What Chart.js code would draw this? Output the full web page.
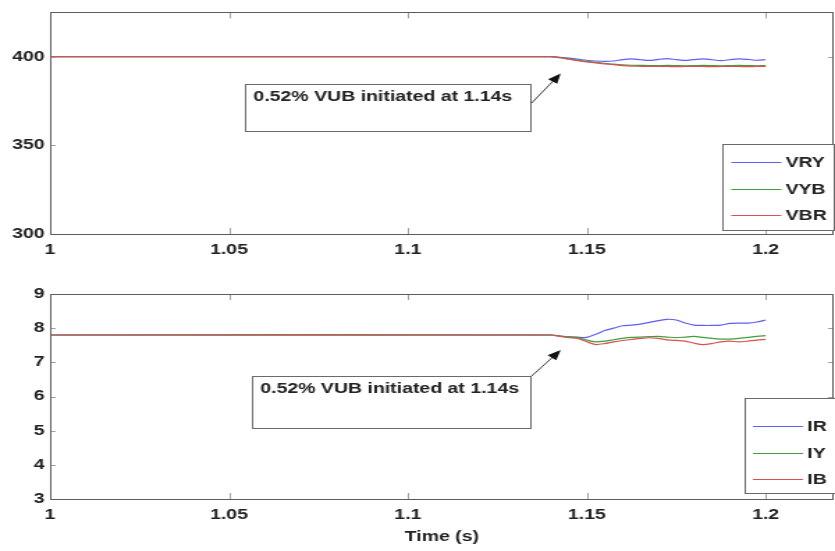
<!DOCTYPE html>
<html>
<head>
<meta charset="utf-8">
<script src="https://cdn.jsdelivr.net/npm/chart.js@4.4.0/dist/chart.umd.min.js"></script>
<style>
  body { margin: 0; background: #fff; width: 835px; height: 551px; overflow: hidden; position: relative; }
  /* the original figure is stretched sideways, so draw narrow and stretch the same way */
  .plot { position: absolute; left: 0; width: 600px; transform-origin: 0 0; transform: scaleX(1.39167); }
  #top { top: 0; height: 270px; }
  #bottom { top: 270px; height: 281px; }
</style>
</head>
<body>
<div class="plot" id="top"><canvas id="voltChart"></canvas></div>
<div class="plot" id="bottom"><canvas id="currChart"></canvas></div>
<script>
// --  data  --
const time = [1, 1.14, 1.1425, 1.145, 1.1475, 1.15, 1.1525, 1.155, 1.1575, 1.16, 1.1625, 1.165, 1.1675,
    1.17, 1.1725, 1.175, 1.1775, 1.18, 1.1825, 1.185, 1.1875, 1.19, 1.1925, 1.195, 1.1975, 1.2]

// line voltages (V)
const vry = [400, 400, 399.7, 399.2, 398.6, 398.0, 397.6, 397.4, 397.6, 398.4, 398.8, 398.3, 397.9,
    398.5, 398.9, 398.4, 397.9, 398.4, 398.8, 398.3, 397.8, 398.3, 398.8, 398.5, 398.0, 398.3]
const vyb = [400, 400, 399.5, 398.8, 398.0, 397.4, 396.8, 396.3, 395.8, 395.4, 395.2, 395.1, 395.0,
    395.0, 395.1, 395.0, 394.9, 395.0, 395.1, 395.0, 394.9, 395.0, 395.1, 395.0, 394.9, 395.0]
const vbr = [400, 400, 399.4, 398.6, 397.8, 397.1, 396.5, 396.0, 395.5, 395.0, 394.7, 394.6, 394.5,
    394.6, 394.5, 394.4, 394.5, 394.6, 394.5, 394.4, 394.5, 394.6, 394.5, 394.4, 394.5, 394.5]

// phase currents (A)
const ir = [7.8, 7.8, 7.77, 7.74, 7.73, 7.73, 7.82, 7.93, 8.0, 8.07, 8.09, 8.12, 8.17,
    8.22, 8.26, 8.24, 8.15, 8.09, 8.08, 8.08, 8.09, 8.14, 8.15, 8.15, 8.18, 8.24]
const iy = [7.8, 7.8, 7.77, 7.75, 7.73, 7.65, 7.6, 7.62, 7.66, 7.7, 7.73, 7.74, 7.75,
    7.76, 7.74, 7.72, 7.74, 7.76, 7.73, 7.7, 7.68, 7.68, 7.7, 7.73, 7.76, 7.78]
const ib = [7.8, 7.8, 7.76, 7.72, 7.7, 7.6, 7.52, 7.55, 7.6, 7.64, 7.67, 7.7, 7.72,
    7.7, 7.66, 7.64, 7.62, 7.56, 7.52, 7.55, 7.6, 7.62, 7.6, 7.62, 7.65, 7.67]

const timeTicks = [1, 1.05, 1.1, 1.15, 1.2]
const voltTicks = [300, 350, 400]
const currTicks = [3, 4, 5, 6, 7, 8, 9]

const voltLabels = ['VRY', 'VYB', 'VBR']
const currLabels = ['IR', 'IY', 'IB']
const noteText = '0.52% VUB initiated at 1.14s'


// --  helpers  --
const FONT = '"Liberation Sans", Arial, sans-serif'
const traceColors = ['rgb(95,95,240)', 'rgb(60,160,60)', 'rgb(220,80,80)']

function makeDataset (label, values, i) {
    return {
        label: label,
        data: values.map((v, k) => ({x: time[k], y: v})),
        borderColor: traceColors[i],
        borderWidth: 1.2,
        pointRadius: 0,
        tension: 0.25,
        fill: false,
        order: 3 - i // last trace on top, like matlab
    }
}

function fixedTicks (arr) {
    return scale => { scale.ticks = arr.map(v => ({value: v})) }
}

// draws the matlab style box, inner tick marks, legend and the arrow note
const matlabLook = {
    id: 'matlabLook',
    afterDatasetsDraw (chart, args, opts) {
        const ctx = chart.ctx
        const a = chart.chartArea
        const xs = chart.scales.x
        const ys = chart.scales.y
        ctx.save()

        // tick marks pointing inwards on all four sides
        ctx.strokeStyle = '#a0a0a0'
        ctx.lineWidth = 1
        ctx.beginPath()
        for (const t of xs.ticks) {
            const px = Math.round(xs.getPixelForValue(t.value)) + 0.5
            ctx.moveTo(px, a.top); ctx.lineTo(px, a.top + 6)
            ctx.moveTo(px, a.bottom); ctx.lineTo(px, a.bottom - 6)
        }
        for (const t of ys.ticks) {
            const py = Math.round(ys.getPixelForValue(t.value)) + 0.5
            ctx.moveTo(a.left, py); ctx.lineTo(a.left + 4, py)
            ctx.moveTo(a.right, py); ctx.lineTo(a.right - 4, py)
        }
        ctx.stroke()

        // axes box
        ctx.strokeStyle = '#5c5c5c'
        ctx.strokeRect(Math.round(a.left) + 0.5, Math.round(a.top) + 0.5,
            Math.round(a.right - a.left) - 1, Math.round(a.bottom - a.top))

        // note box + arrow
        const n = opts.note
        const bl = xs.getPixelForValue(n.box[0]), br = xs.getPixelForValue(n.box[1])
        const bt = ys.getPixelForValue(n.box[2]), bb = ys.getPixelForValue(n.box[3])
        ctx.fillStyle = '#fff'
        ctx.fillRect(bl, bt, br - bl, bb - bt)
        ctx.strokeStyle = '#6a6a6a'
        ctx.strokeRect(Math.round(bl) + 0.5, Math.round(bt) + 0.5, Math.round(br - bl), Math.round(bb - bt))
        ctx.font = 'bold 14px ' + FONT
        ctx.fillStyle = '#222'
        ctx.textAlign = 'left'
        ctx.textBaseline = 'middle'
        ctx.fillText(noteText, bl + 6, bt + 13)

        const x0 = xs.getPixelForValue(n.from[0]), y0 = ys.getPixelForValue(n.from[1])
        const x1 = xs.getPixelForValue(n.to[0]), y1 = ys.getPixelForValue(n.to[1])
        const ang = Math.atan2(y1 - y0, x1 - x0)
        ctx.strokeStyle = '#444'
        ctx.beginPath()
        ctx.moveTo(x0, y0)
        ctx.lineTo(x1 - 8 * Math.cos(ang), y1 - 8 * Math.sin(ang))
        ctx.stroke()
        ctx.fillStyle = '#111'
        ctx.beginPath()
        ctx.moveTo(x1, y1)
        ctx.lineTo(x1 - 10 * Math.cos(ang) + 4 * Math.sin(ang), y1 - 10 * Math.sin(ang) - 4 * Math.cos(ang))
        ctx.lineTo(x1 - 10 * Math.cos(ang) - 4 * Math.sin(ang), y1 - 10 * Math.sin(ang) + 4 * Math.cos(ang))
        ctx.closePath()
        ctx.fill()

        // legend in the lower right corner
        const lg = opts.legend
        const sets = chart.data.datasets
        let textW = 0
        for (const d of sets) textW = Math.max(textW, ctx.measureText(d.label).width)
        const w = 6.5 + 36 + 3 + textW + 5
        const lx = a.right - w
        const ly = a.bottom - lg.gap - lg.height
        ctx.fillStyle = '#fff'
        ctx.fillRect(lx, ly, w, lg.height)
        ctx.strokeStyle = '#6a6a6a'
        ctx.strokeRect(Math.round(lx) + 0.5, Math.round(ly) + 0.5, Math.round(w), Math.round(lg.height))
        sets.forEach((d, i) => {
            const ry = Math.round(ly + lg.height - lg.bottomPad - (sets.length - 1 - i) * lg.row) + 0.5
            ctx.strokeStyle = d.borderColor
            ctx.lineWidth = 1.2
            ctx.beginPath()
            ctx.moveTo(lx + 6.5, ry)
            ctx.lineTo(lx + 42.5, ry)
            ctx.stroke()
            ctx.fillStyle = '#222'
            ctx.fillText(d.label, lx + 45.5, ry + 0.5)
        })

        ctx.restore()
    }
}

function makeOptions (yMin, yMax, yTickArr, xHeight, padTop, withTitle, note, legend) {
    return {
        responsive: true,
        maintainAspectRatio: false,
        animation: false,
        devicePixelRatio: 1,
        layout: { padding: { top: padTop, right: 1, left: 0, bottom: 0 } },
        plugins: {
            legend: { display: false },
            tooltip: { enabled: false },
            matlabLook: { note: note, legend: legend }
        },
        scales: {
            x: {
                type: 'linear',
                min: 1,
                max: 1.219,
                afterBuildTicks: fixedTicks(timeTicks),
                afterFit: s => { s.height = xHeight },
                grid: { display: false, drawTicks: false },
                border: { display: false },
                ticks: {
                    padding: 8,
                    color: '#222',
                    font: { family: FONT, size: 14, weight: 'bold' },
                    callback: v => String(+v.toFixed(2))
                },
                title: {
                    display: withTitle,
                    text: 'Time (s)',
                    color: '#222',
                    font: { family: FONT, size: 14, weight: 'bold' },
                    padding: { top: 0, bottom: 5 }
                }
            },
            y: {
                min: yMin,
                max: yMax,
                afterBuildTicks: fixedTicks(yTickArr),
                afterFit: s => { s.width = 36 },
                grid: { display: false, drawTicks: false },
                border: { display: false },
                ticks: {
                    padding: 4,
                    color: '#222',
                    font: { family: FONT, size: 14, weight: 'bold' }
                }
            }
        }
    }
}

Chart.register(matlabLook)

//  --  voltage plot  --
new Chart(document.getElementById('voltChart'), {
    type: 'line',
    data: { datasets: [makeDataset(voltLabels[0], vry, 0), makeDataset(voltLabels[1], vyb, 1), makeDataset(voltLabels[2], vbr, 2)] },
    options: makeOptions(300, 425, voltTicks, 36, 11, false,
        { box: [1.0545, 1.1341, 384.4, 357.8], from: [1.1346, 373.9], to: [1.1427, 390.6] },
        { gap: 4, height: 86, row: 26.5, bottomPad: 15 })
})

//  --  current plot  --
new Chart(document.getElementById('currChart'), {
    type: 'line',
    data: { datasets: [makeDataset(currLabels[0], ir, 0), makeDataset(currLabels[1], iy, 1), makeDataset(currLabels[2], ib, 2)] },
    options: makeOptions(3, 9, currTicks, 52, 24, true,
        { box: [1.0564, 1.1341, 6.6, 5.08], from: [1.1346, 6.6], to: [1.1427, 7.36] },
        { gap: 6, height: 95, row: 26.5, bottomPad: 14 })
})
</script>
</body>
</html>
